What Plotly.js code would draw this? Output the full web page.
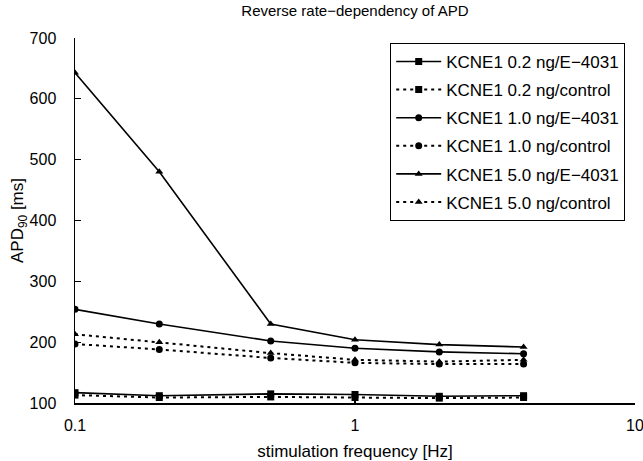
<!DOCTYPE html>
<html>
<head>
<meta charset="utf-8">
<script src="https://cdn.plot.ly/plotly-3.0.1.min.js"></script>
<style>
  html, body { margin: 0; padding: 0; background: #fff; }
  #chart { width: 643px; height: 461px; }
</style>
</head>
<body>
<div id="chart"></div>
<script>
// Stimulation frequencies (Hz)
const freqHz = [0.1, 0.2, 0.5, 1, 2, 4];

// APD90 (ms) per KCNE1 dose and condition
const kcne02_e4031   = [117, 112, 115, 114, 111, 112];
const kcne02_control = [113, 109, 110, 109, 108, 109];
const kcne10_e4031   = [254, 230, 202, 190, 184, 181];
const kcne10_control = [197, 188, 174, 166, 164, 164];
const kcne50_e4031   = [643, 480, 230, 204, 196, 192];
const kcne50_control = [213, 200, 182, 171, 168, 171];

const seriesNames = [
  "KCNE1 0.2 ng/E\u22124031",
  "KCNE1 0.2 ng/control",
  "KCNE1 1.0 ng/E\u22124031",
  "KCNE1 1.0 ng/control",
  "KCNE1 5.0 ng/E\u22124031",
  "KCNE1 5.0 ng/control"
];
const seriesValues = [kcne02_e4031, kcne02_control, kcne10_e4031, kcne10_control, kcne50_e4031, kcne50_control];
const seriesSymbols = ["square", "square", "circle", "circle", "triangle-up", "triangle-up"];
const seriesDash = ["solid", "3px,4px", "solid", "3px,4px", "solid", "3px,4px"];

const FONT = '"Liberation Sans", Arial, sans-serif';

const traces = seriesValues.map((vals, i) => ({
  x: freqHz,
  y: vals,
  name: seriesNames[i],
  legendgroup: "g" + i,
  type: "scatter",
  mode: "lines+markers",
  line: { color: "#000", width: seriesDash[i] === "solid" ? 1.6 : 2, dash: seriesDash[i] },
  marker: { color: "#000", symbol: seriesSymbols[i], size: 7 }
}));

const layout = {
  width: 643,
  height: 461,
  margin: { l: 75, r: 8, t: 38, b: 58 },
  paper_bgcolor: "#fff",
  plot_bgcolor: "#fff",
  font: { family: FONT, size: 16, color: "#000" },
  showlegend: true,
  title: {
    text: "Reverse rate\u2212dependency of APD",
    font: { family: FONT, size: 15, color: "#000" },
    x: 0.552, xanchor: "center",
    y: 0.976, yanchor: "middle"
  },
  xaxis: {
    type: "log",
    range: [-1, 1],
    tickvals: [0.1, 1, 10],
    ticktext: ["0.1", "1", "10"],
    ticks: "inside",
    ticklen: 6,
    tickwidth: 1.2,
    tickcolor: "#000",
    showline: true,
    linecolor: "#000",
    linewidth: 1.5,
    showgrid: false,
    zeroline: false,
    ticklabelstandoff: 7,
    ticklabeloverflow: "allow",
    tickfont: { family: FONT, size: 16, color: "#000" },
    title: { text: "stimulation frequency [Hz]", font: { family: FONT, size: 17, color: "#000" }, standoff: 15 }
  },
  yaxis: {
    range: [100, 700],
    dtick: 100,
    ticks: "inside",
    ticklen: 6,
    tickwidth: 1.2,
    tickcolor: "#000",
    showline: true,
    linecolor: "#000",
    linewidth: 1.5,
    showgrid: false,
    zeroline: false,
    ticklabelstandoff: 14,
    tickfont: { family: FONT, size: 16, color: "#000" },
    title: { text: "APD<sub>90</sub> [ms]", font: { family: FONT, size: 17, color: "#000" }, standoff: 1 }
  },
  legend: {
    x: 0.5625, xanchor: "left",
    y: 0.987, yanchor: "top",
    bgcolor: "#fff",
    bordercolor: "#000",
    borderwidth: 1.2,
    traceorder: "grouped",
    tracegroupgap: 3,
    itemwidth: 45,
    font: { family: FONT, size: 17, color: "#000" }
  }
};

Plotly.newPlot("chart", traces, layout, { staticPlot: true, displayModeBar: false });
</script>
</body>
</html>
